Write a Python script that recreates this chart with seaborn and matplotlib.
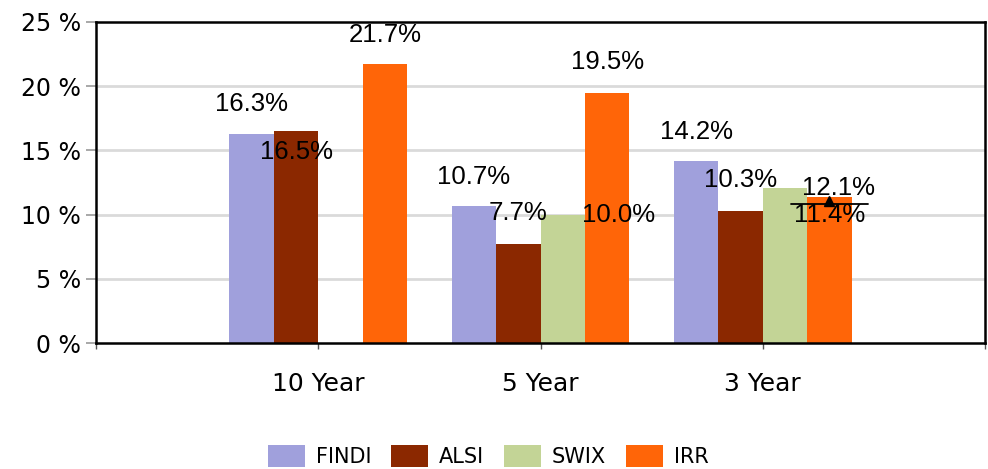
import matplotlib
matplotlib.use("Agg")
import matplotlib.pyplot as plt
import seaborn as sns
import pandas as pd
import numpy as np
from matplotlib.patches import Patch

# ---- data ----
periods = ["10 Year", "5 Year", "3 Year"]
series = ["FINDI", "ALSI", "SWIX", "IRR"]
findi = [16.3, 10.7, 14.2]
alsi = [16.5, 7.7, 10.3]
swix = [np.nan, 10.0, 12.1]
irr = [21.7, 19.5, 11.4]
target_3y = 10.8
y_ticks = [0, 5, 10, 15, 20, 25]

colors = ["#A0A0DC", "#8B2800", "#C3D496", "#FF6508"]

# label offsets (pixels) per series, per period: (dx, dy)
label_dx = {"FINDI": [0, 0, 0], "ALSI": [0, 0, 0], "SWIX": [0, 56, 54], "IRR": [0, 0, 0]}
label_dy = {"FINDI": [30, 29, 29], "ALSI": [-21, 31, 31], "SWIX": [0, 0, 0], "IRR": [29, 31, -18]}

rows = []
for s, vals in zip(series, [findi, alsi, swix, irr]):
    for p, v in zip(periods, vals):
        rows.append({"Period": p, "Series": s, "Value": v})
df = pd.DataFrame(rows)

sns.set_theme(style="white")
plt.rcParams["font.family"] = ["DejaVu Sans"]

fig = plt.figure(figsize=(9.88, 4.69), dpi=100)
ax = fig.add_axes([96 / 988, 1 - 343 / 469, (985 - 96) / 988, (343 - 22) / 469])

sns.barplot(data=df, x="Period", y="Value", hue="Series", order=periods,
            hue_order=series, palette=colors, saturation=1, width=0.8,
            linewidth=0, ax=ax, legend=False, errorbar=None)

ax.set_xlim(-1, 3)
ax.set_ylim(0, 25)
ax.set_yticks(y_ticks)
ax.set_yticklabels([f"{t} %" for t in y_ticks], fontsize=17, color="black")
ax.set_xticks([-1, 0, 1, 2, 3])
ax.set_xticklabels(["", *periods, ""], fontsize=18, color="black")
ax.set_xlabel("")
ax.set_ylabel("")

for t in y_ticks[1:-1]:
    ax.axhline(t, color="#DADADA", lw=2, zorder=0)

for sp in ax.spines.values():
    sp.set_visible(True)
    sp.set_color("black")
    sp.set_linewidth(1.8)

ax.tick_params(axis="y", which="both", left=True, length=7, width=1.2, color="#999999", pad=4)
ax.tick_params(axis="x", which="both", bottom=True, length=4, width=1.0, color="#555555", pad=17)

# data labels
n = len(series)
w = 0.8 / n
for j, (s, vals) in enumerate(zip(series, [findi, alsi, swix, irr])):
    for i, v in enumerate(vals):
        if np.isnan(v):
            continue
        x = i - 0.4 + w * (j + 0.5)
        ax.annotate(f"{v:.1f}%", xy=(x, v), xytext=(label_dx[s][i], label_dy[s][i]),
                    textcoords="offset pixels", ha="center", va="center",
                    fontsize=18.5, family="Liberation Sans", color="black",
                    annotation_clip=False, zorder=5)

# target marker on 3 Year IRR
xi = 2 - 0.4 + w * 3.5
ax.plot([xi - 0.175, xi + 0.175], [target_3y, target_3y], color="black", lw=1.3, zorder=6)
ax.plot([xi], [target_3y + 0.25], marker="^", color="black", markersize=7, zorder=6)

# legend
handles = [Patch(facecolor=c, edgecolor="none") for c in colors]
fig.legend(handles, series, loc="center", bbox_to_anchor=(488 / 988, 1 - 456 / 469),
           ncol=4, frameon=False, fontsize=15, handlelength=1.8, handleheight=1.2,
           handletextpad=0.5, columnspacing=0.95, labelcolor="black")

fig.savefig("out.png", dpi=100)
